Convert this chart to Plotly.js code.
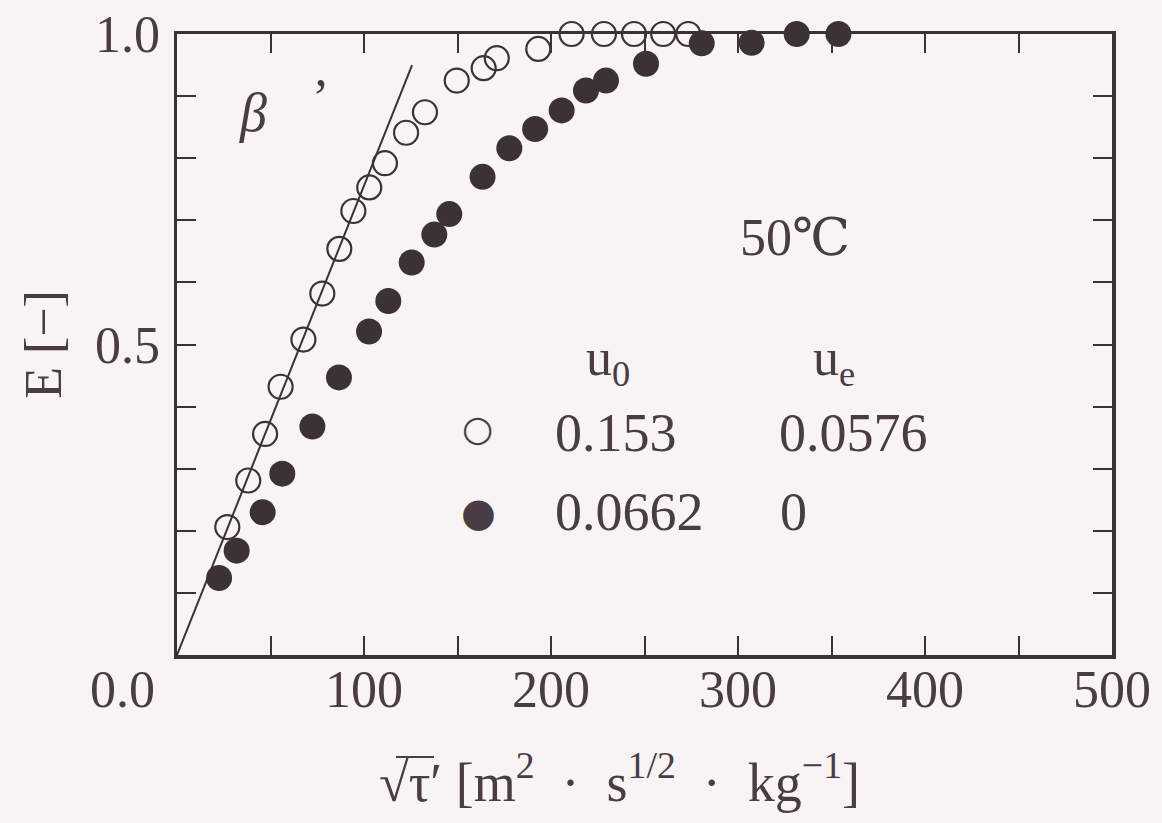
<!DOCTYPE html>
<html>
<head>
<meta charset="utf-8">
<script src="https://cdn.plot.ly/plotly-3.0.1.min.js"></script>
<style>
  html, body { margin: 0; padding: 0; background: #f8f3f5; }
  #chart { width: 1162px; height: 823px; }
</style>
</head>
<body>
<div id="chart"></div>
<script>
// Open circles: u0 = 0.153, ue = 0.0576
const openX = [26.9, 38.1, 47.1, 55.4, 67.6, 77.7, 86.8, 94.3, 102.8, 111.2, 122.5, 132.6, 149.6, 164.0, 171.0, 193.2, 211.0, 228.3, 244.4, 260.0, 273.4];
const openY = [0.206, 0.281, 0.356, 0.432, 0.508, 0.582, 0.654, 0.715, 0.753, 0.792, 0.841, 0.874, 0.925, 0.945, 0.961, 0.976, 1.0, 1.0, 1.0, 1.0, 1.0];
// Filled circles: u0 = 0.0662, ue = 0
const filledX = [22.5, 31.9, 45.8, 56.3, 72.4, 86.6, 102.7, 113.0, 125.5, 137.6, 145.6, 163.4, 177.7, 191.5, 205.7, 218.7, 229.4, 250.8, 280.6, 307.3, 331.4, 353.7];
const filledY = [0.124, 0.168, 0.230, 0.292, 0.368, 0.447, 0.521, 0.570, 0.632, 0.677, 0.710, 0.770, 0.816, 0.847, 0.877, 0.909, 0.925, 0.952, 0.985, 0.986, 1.0, 1.0];
// Initial slope line (beta')
const lineX = [0, 125.7];
const lineY = [0, 0.950];

const xTickVals = [0, 50, 100, 150, 200, 250, 300, 350, 400, 450, 500];
const xTickText = ["", "", "100", "", "200", "", "300", "", "400", "", "500"];
const yTickVals = [0, 0.1, 0.2, 0.3, 0.4, 0.5, 0.6, 0.7, 0.8, 0.9, 1.0];
const yTickText = ["", "", "", "", "", "0.5", "", "", "", "", "1.0"];

const ink = "#3c3236";
const txt = "#4a3c43";
const serif = "Liberation Serif, DejaVu Serif, serif";
const F = 52;
const nb = "\u00A0";
const xTitle = "√τ′" + nb + "[m<sup>2</sup>" + nb + nb + "·" + nb + nb + "s<sup>1/2</sup>" + nb + nb + "·" + nb + nb + "kg<sup>−1</sup>]";

// pixel -> paper helpers (plot area: x 177..1112, y 34..655)
const px = p => (p - 177) / 935;
const py = p => (655 - p) / 621;

const traces = [
  { x: lineX, y: lineY, mode: "lines", line: { color: ink, width: 2 }, hoverinfo: "skip", showlegend: false },
  { x: openX, y: openY, mode: "markers", cliponaxis: false, showlegend: false,
    marker: { symbol: "circle-open", size: 24, color: ink, line: { width: 2.2, color: ink } } },
  { x: filledX, y: filledY, mode: "markers", cliponaxis: false, showlegend: false,
    marker: { symbol: "circle", size: 26, color: ink, line: { width: 0 } } }
];

function ann(text, x, y, xanchor, size, family) {
  return { text: text, xref: "paper", yref: "paper", x: px(x), y: py(y), xanchor: xanchor, yanchor: "middle",
           showarrow: false, font: { family: family || serif, size: size, color: txt } };
}

const layout = {
  width: 1162, height: 823,
  paper_bgcolor: "#f8f3f5", plot_bgcolor: "#f8f3f5",
  margin: { l: 177, r: 50, t: 34, b: 168 },
  showlegend: false,
  font: { family: serif, color: txt, size: F },
  xaxis: {
    range: [0, 500], autorange: false, showgrid: false, zeroline: false,
    showline: true, linecolor: ink, linewidth: 3.5, mirror: "ticks",
    ticks: "inside", ticklen: 19, tickwidth: 2, tickcolor: ink,
    tickmode: "array", tickvals: xTickVals, ticktext: xTickText,
    tickfont: { family: serif, size: F, color: txt }, ticklabelstandoff: -14,
    automargin: false
  },
  yaxis: {
    range: [0, 1], autorange: false, showgrid: false, zeroline: false,
    showline: true, linecolor: ink, linewidth: 3.5, mirror: "ticks",
    ticks: "inside", ticklen: 19, tickwidth: 2, tickcolor: ink,
    tickmode: "array", tickvals: yTickVals, ticktext: yTickText,
    tickfont: { family: serif, size: F, color: txt }, ticklabelstandoff: 3,
    automargin: false,
    title: { text: "E [−]", font: { family: serif, size: 52, color: txt }, standoff: 18 }
  },
  shapes: [
    // vinculum of the square root over tau'
    { type: "line", xref: "paper", yref: "paper", x0: px(396), x1: px(434), y0: py(757), y1: py(757),
      line: { color: txt, width: 2 } }
  ],
  annotations: [
    ann(xTitle, 377, 778, "left", 54),
    ann("0.0", 157, 689, "right", F),
    ann("<i>β</i>", 253, 113, "center", 54),
    ann("’", 320, 97, "center", 52),
    ann("50℃", 795, 237, "center", 52),
    ann("u<sub>0</sub>", 584, 361, "left", 52),
    ann("u<sub>e</sub>", 811, 361, "left", 52),
    ann("○", 477, 429, "center", 36, "DejaVu Sans"),
    ann("●", 478, 512, "center", 40, "DejaVu Sans"),
    ann("0.153", 553, 433, "left", 54),
    ann("0.0576", 777, 433, "left", 54),
    ann("0.0662", 553, 512, "left", 54),
    ann("0", 778, 512, "left", 54)
  ]
};

Plotly.newPlot("chart", traces, layout, { staticPlot: true, displayModeBar: false });
</script>
</body>
</html>
